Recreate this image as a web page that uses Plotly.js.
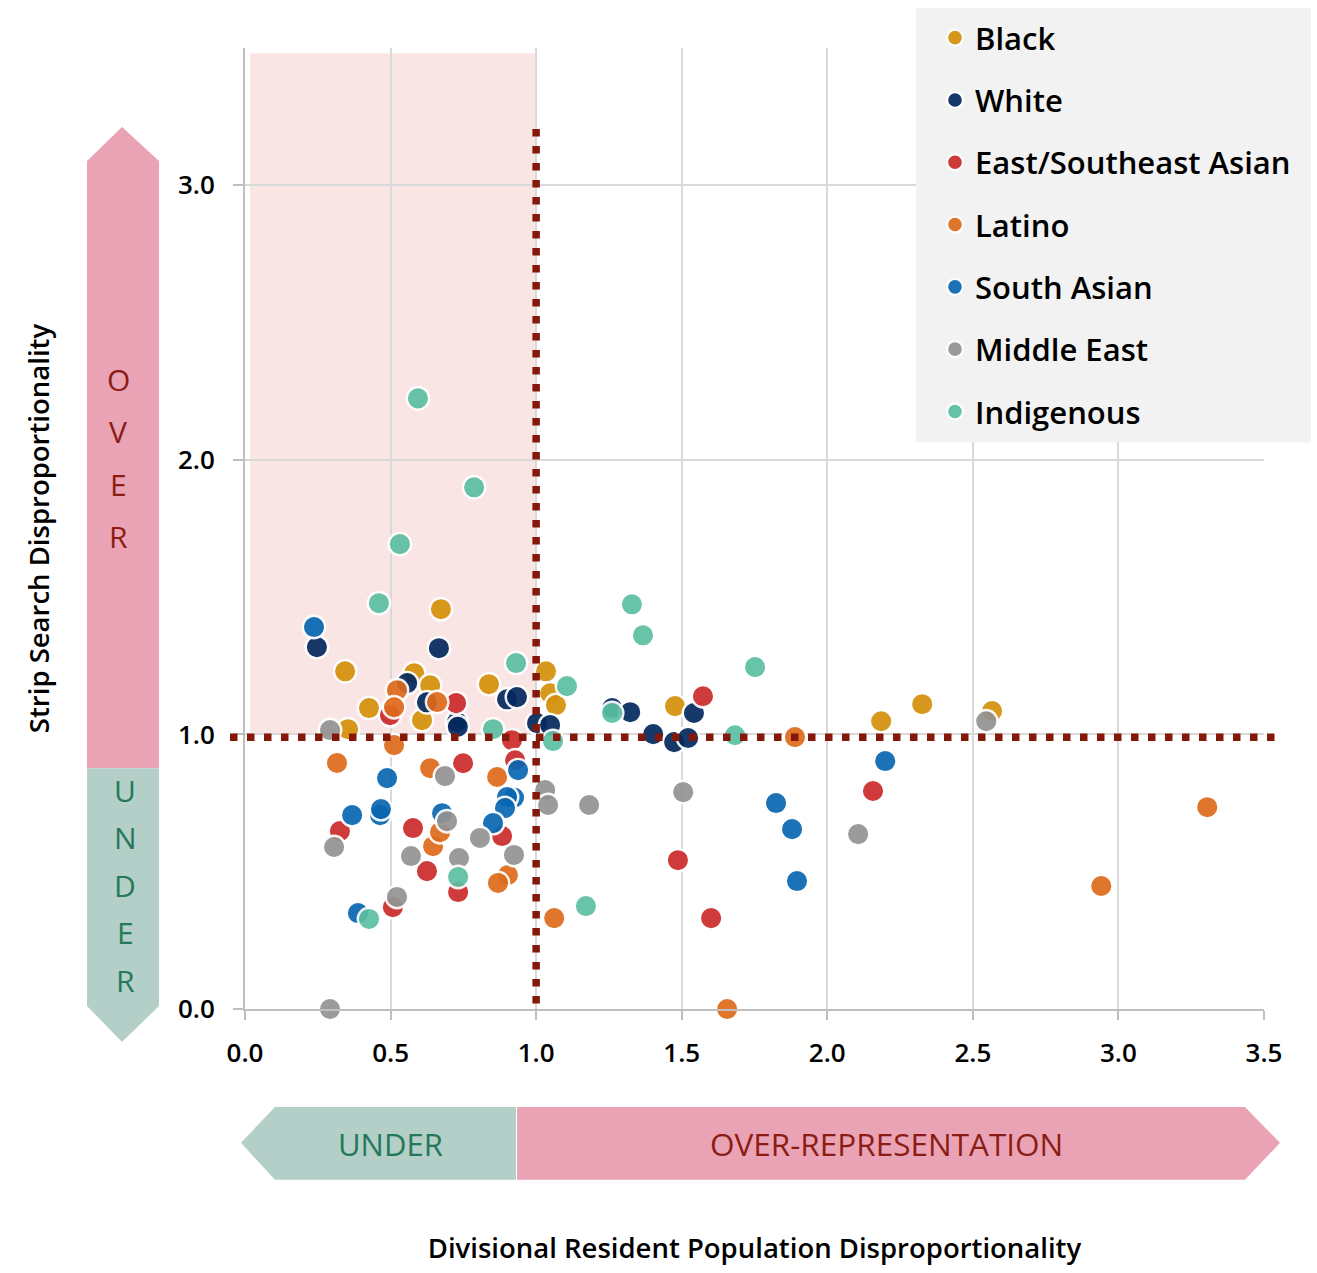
<!DOCTYPE html>
<html>
<head>
<meta charset="utf-8">
<script src="https://cdn.plot.ly/plotly-3.0.1.min.js"></script>
<style>html,body{margin:0;padding:0;background:#fff;}#chart{width:1317px;height:1273px;}</style>
</head>
<body>
<div id="chart"></div>
<script>
// ---- Data ----
const seriesNames = ["Black", "White", "East/Southeast Asian", "Latino", "South Asian", "Middle East", "Indigenous"];
const seriesColors = ["#d4910a", "#03295e", "#cc2a2b", "#de6a1b", "#0867b1", "#939393", "#5bbfa1"];

const blackX = [0.673, 0.344, 0.354, 0.426, 0.581, 0.636, 0.608, 0.838, 1.034, 1.048, 1.068, 1.477, 2.185, 2.326, 2.566];
const blackY = [1.456, 1.230, 1.019, 1.096, 1.223, 1.179, 1.052, 1.183, 1.230, 1.150, 1.107, 1.103, 1.048, 1.110, 1.085];

const whiteX = [0.247, 0.666, 0.557, 0.625, 0.728, 0.731, 0.900, 0.934, 1.003, 1.048, 1.261, 1.323, 1.402, 1.474, 1.522, 1.542];
const whiteY = [1.318, 1.314, 1.187, 1.117, 1.045, 1.028, 1.128, 1.136, 1.041, 1.034, 1.096, 1.081, 1.001, 0.972, 0.987, 1.078];

const eastAsianX = [1.573, 0.725, 0.498, 0.917, 0.928, 0.749, 0.326, 0.577, 0.883, 0.625, 0.732, 0.508, 2.157, 1.487, 1.601];
const eastAsianY = [1.139, 1.114, 1.070, 0.979, 0.906, 0.895, 0.648, 0.659, 0.630, 0.502, 0.426, 0.371, 0.794, 0.542, 0.331];

const latinoX = [0.316, 0.512, 0.522, 0.512, 0.660, 0.636, 0.866, 0.646, 0.670, 0.903, 0.869, 1.062, 1.656, 1.889, 2.941, 3.305];
const latinoY = [0.896, 0.961, 1.161, 1.099, 1.118, 0.877, 0.845, 0.593, 0.644, 0.488, 0.459, 0.331, 0.000, 0.990, 0.448, 0.735];

const southAsianX = [0.237, 0.488, 0.368, 0.464, 0.467, 0.677, 0.938, 0.924, 0.900, 0.893, 0.852, 0.388, 1.824, 1.879, 1.896, 2.199];
const southAsianY = [1.391, 0.841, 0.706, 0.706, 0.728, 0.713, 0.870, 0.770, 0.772, 0.732, 0.677, 0.349, 0.750, 0.655, 0.466, 0.903];

const middleEastX = [0.292, 0.306, 0.292, 0.522, 0.570, 0.687, 0.694, 0.735, 0.807, 0.924, 1.031, 1.041, 1.182, 1.505, 2.106, 2.546];
const middleEastY = [1.016, 0.590, 0.000, 0.408, 0.557, 0.848, 0.684, 0.550, 0.623, 0.561, 0.797, 0.743, 0.743, 0.790, 0.637, 1.048];

const indigenousX = [0.594, 0.787, 0.532, 0.460, 0.931, 0.852, 1.058, 1.106, 1.261, 1.329, 1.367, 1.683, 1.752, 0.732, 0.426, 1.171];
const indigenousY = [2.224, 1.900, 1.693, 1.478, 1.260, 1.019, 0.976, 1.176, 1.078, 1.474, 1.361, 0.997, 1.245, 0.481, 0.328, 0.375];

const xTickVals = [0, 0.5, 1, 1.5, 2, 2.5, 3, 3.5];
const yTickVals = [0, 1, 2, 3];
const parityX = 1.0;   // reference line: parity on x
const parityY = 0.99;  // reference line: parity on y

const xsAll = [blackX, whiteX, eastAsianX, latinoX, southAsianX, middleEastX, indigenousX];
const ysAll = [blackY, whiteY, eastAsianY, latinoY, southAsianY, middleEastY, indigenousY];

// ---- Layout helpers (pixel -> paper) ----
const W = 1317, H = 1273;
const M = {l: 245, r: 53, t: 47, b: 264};
const PW = W - M.l - M.r, PH = H - M.t - M.b;
const px = p => (p - M.l) / PW;
const py = p => (H - M.b - p) / PH;

const FONT = "Open Sans, Noto Sans, sans-serif";

const traces = seriesNames.map((name, i) => ({
  type: "scatter",
  mode: "markers",
  name: name,
  legendgroup: "g" + i,
  x: xsAll[i],
  y: ysAll[i],
  cliponaxis: false,
  marker: {size: 22.5, color: seriesColors[i], opacity: 0.92, line: {color: "#ffffff", width: 2.4}},
  hoverinfo: "x+y+name"
}));

function pathPx(pts) {
  return "M" + pts.map(p => px(p[0]).toFixed(5) + "," + py(p[1]).toFixed(5)).join(" L") + " Z";
}

const pinkArrow = "#eaa3b4", tealArrow = "#b3cfc8";
const shapes = [
  // shaded quadrant
  {type: "rect", xref: "x", yref: "y", x0: 0.017, x1: 1.0, y0: 1.0, y1: 3.48,
   fillcolor: "#f9e5e4", line: {width: 0}, layer: "below"},
  // left vertical arrow
  {type: "path", xref: "paper", yref: "paper", path: pathPx([[87,160],[122,126],[159,160],[159,768],[87,768]]),
   fillcolor: pinkArrow, line: {width: 0}, layer: "above"},
  {type: "path", xref: "paper", yref: "paper", path: pathPx([[87,768],[159,768],[159,1006],[122,1042],[87,1006]]),
   fillcolor: tealArrow, line: {width: 0}, layer: "above"},
  // bottom horizontal arrow
  {type: "path", xref: "paper", yref: "paper", path: pathPx([[241,1143],[275,1107],[516,1107],[516,1180],[275,1180]]),
   fillcolor: tealArrow, line: {width: 0}, layer: "above"},
  {type: "path", xref: "paper", yref: "paper", path: pathPx([[517,1107],[1245,1107],[1280,1143],[1245,1180],[517,1180]]),
   fillcolor: pinkArrow, line: {width: 0}, layer: "above"},
  // dotted reference lines
  {type: "line", xref: "x", yref: "y", x0: parityX, x1: parityX, y0: 0.02, y1: 3.23,
   line: {color: "#84190b", width: 7.5, dash: "7.5px,9.5px"}, layer: "above"},
  {type: "line", xref: "paper", yref: "y", x0: px(230), x1: px(1282), y0: parityY, y1: parityY,
   line: {color: "#84190b", width: 7.5, dash: "7.5px,9.5px"}, layer: "above"},
  // legend box
  {type: "rect", xref: "paper", yref: "paper", x0: px(916), x1: px(1311), y0: py(7), y1: py(442),
   fillcolor: "#f2f2f2", line: {width: 0}, layer: "above"}
];

const annotations = [];
const overLetters = ["O", "V", "E", "R"];
const overY = [379, 431, 484, 536];
overLetters.forEach((c, i) => annotations.push({
  xref: "paper", yref: "paper", x: px(118), y: py(overY[i]), text: c, showarrow: false,
  xanchor: "center", yanchor: "middle", font: {family: FONT, size: 30, color: "#8b1c14"}
}));
const underLetters = ["U", "N", "D", "E", "R"];
const underY = [790, 837, 885, 932, 980];
underLetters.forEach((c, i) => annotations.push({
  xref: "paper", yref: "paper", x: px(125), y: py(underY[i]), text: c, showarrow: false,
  xanchor: "center", yanchor: "middle", font: {family: FONT, size: 30, color: "#25795a"}
}));
annotations.push({xref: "paper", yref: "paper", x: px(390), y: py(1144), text: "UNDER", showarrow: false,
  xanchor: "center", yanchor: "middle", font: {family: FONT, size: 31, color: "#25795a"}});
annotations.push({xref: "paper", yref: "paper", x: px(886), y: py(1144), text: "OVER-REPRESENTATION", showarrow: false,
  xanchor: "center", yanchor: "middle", font: {family: FONT, size: 31.5, color: "#8b1c14"}});

const layout = {
  width: W, height: H,
  margin: M,
  paper_bgcolor: "#ffffff",
  plot_bgcolor: "#ffffff",
  font: {family: FONT, color: "#000000"},
  showlegend: true,
  legend: {
    x: px(935), y: py(11), xanchor: "left", yanchor: "top",
    bgcolor: "rgba(0,0,0,0)", borderwidth: 0,
    font: {family: FONT, size: 31, weight: 600, color: "#000"},
    tracegroupgap: 19, itemsizing: "trace"
  },
  xaxis: {
    range: [0, 3.5], tickvals: xTickVals, tickformat: ".1f",
    showgrid: true, gridcolor: "#d9d9d9", gridwidth: 1.5,
    zeroline: false, showline: true, linecolor: "#bfbfbf", linewidth: 2,
    ticks: "outside", ticklen: 9, tickwidth: 2, tickcolor: "#bfbfbf",
    ticklabelstandoff: 11,
    tickfont: {family: FONT, size: 26, weight: 600, color: "#000"},
    title: {text: "Divisional Resident Population Disproportionality", standoff: 170,
      font: {family: FONT, size: 27.5, weight: 600, color: "#000"}}
  },
  yaxis: {
    range: [0, 3.5], tickvals: yTickVals, tickformat: ".1f",
    showgrid: true, gridcolor: "#d9d9d9", gridwidth: 1.5,
    zeroline: false, showline: true, linecolor: "#bfbfbf", linewidth: 2,
    ticks: "outside", ticklen: 10, tickwidth: 2, tickcolor: "#bfbfbf",
    ticklabelstandoff: 13,
    tickfont: {family: FONT, size: 26, weight: 600, color: "#000"},
    title: {text: "Strip Search Disproportionality", standoff: 120,
      font: {family: FONT, size: 27.5, weight: 600, color: "#000"}}
  },
  shapes: shapes,
  annotations: annotations
};

Plotly.newPlot("chart", traces, layout, {displayModeBar: false, responsive: false});
</script>
</body>
</html>
